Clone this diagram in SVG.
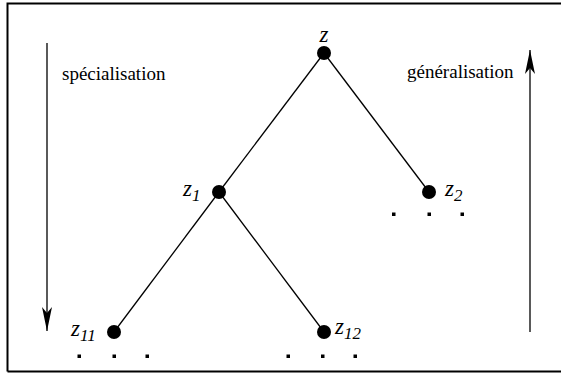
<svg xmlns="http://www.w3.org/2000/svg" width="561" height="374" viewBox="0 0 561 374">
<style>
.edge{stroke:#000;stroke-width:1.3;fill:none}
.node{fill:#000}
.lbl{font-family:'Liberation Serif','Times New Roman','DejaVu Serif',serif;font-style:italic;font-size:23px;fill:#000}
.sub{font-size:17px}
.txt{font-family:'Liberation Serif','Times New Roman','DejaVu Serif',serif;font-size:19px;fill:#000}
.dot{fill:#000}
</style>
<defs>
<marker id="ah" viewBox="0 0 24 10" refX="24" refY="5" markerWidth="24" markerHeight="10" markerUnits="userSpaceOnUse" orient="auto">
<path d="M0,0 L24,5 L0,10 L6,5 Z" fill="#000"/>
</marker>
</defs>
<rect x="0" y="0" width="561" height="374" fill="#fff"/>
<path d="M7.5,371.5 L7.5,3.5 L561,3.5 M7.5,371.5 L561,371.5" stroke="#000" stroke-width="2" fill="none"/>
<g id="connectors">
<line class="edge" x1="324" y1="53" x2="219" y2="192"/>
<line class="edge" x1="324" y1="53" x2="429" y2="192"/>
<line class="edge" x1="219" y1="192" x2="114" y2="332"/>
<line class="edge" x1="219" y1="192" x2="324" y2="332"/>
<line class="edge" x1="47" y1="43" x2="47" y2="331" marker-end="url(#ah)"/>
<line class="edge" x1="530" y1="332" x2="530" y2="50" marker-end="url(#ah)"/>
</g>
<g id="label-spec"><text class="txt" x="62" y="80">spécialisation</text></g>
<g id="label-gen"><text class="txt" x="407" y="78">généralisation</text></g>
<g id="z"><circle class="node" cx="324" cy="53" r="7"/><text class="lbl" x="324" y="42" text-anchor="middle">z</text></g>
<g id="z1"><circle class="node" cx="219" cy="192" r="7"/><text class="lbl" x="183" y="196">z<tspan class="sub" dy="5">1</tspan></text></g>
<g id="z2"><circle class="node" cx="429" cy="192" r="7"/><text class="lbl" x="445" y="196">z<tspan class="sub" dy="5">2</tspan></text>
<rect class="dot" x="392" y="212.5" width="3.5" height="3.5"/><rect class="dot" x="427.5" y="212.5" width="3.5" height="3.5"/><rect class="dot" x="460.5" y="212.5" width="3.5" height="3.5"/></g>
<g id="z11"><circle class="node" cx="114" cy="332" r="7"/><text class="lbl" x="71" y="336">z<tspan class="sub" dy="5">11</tspan></text>
<rect class="dot" x="77.5" y="354.5" width="3.5" height="3.5"/><rect class="dot" x="112.5" y="354.5" width="3.5" height="3.5"/><rect class="dot" x="145.5" y="354.5" width="3.5" height="3.5"/></g>
<g id="z12"><circle class="node" cx="324" cy="332" r="7"/><text class="lbl" x="335" y="334">z<tspan class="sub" dy="5">12</tspan></text>
<rect class="dot" x="286.5" y="354.5" width="3.5" height="3.5"/><rect class="dot" x="321" y="354.5" width="3.5" height="3.5"/><rect class="dot" x="353.5" y="354.5" width="3.5" height="3.5"/></g>
</svg>
